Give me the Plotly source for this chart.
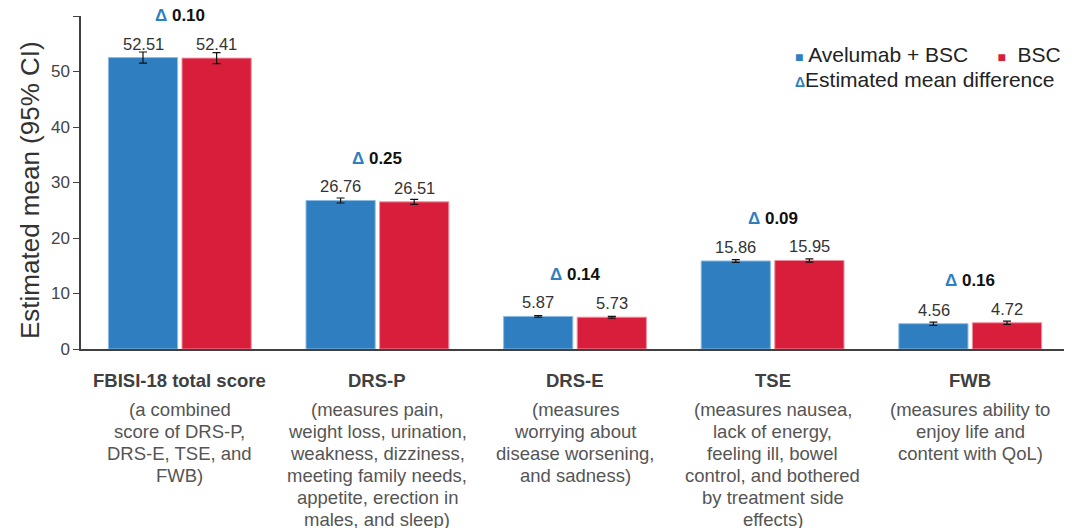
import plotly.graph_objects as go

categories = ["FBISI-18 total score", "DRS-P", "DRS-E", "TSE", "FWB"]
descriptions = [
    ["(a combined", "score of DRS-P,", "DRS-E, TSE, and", "FWB)"],
    ["(measures pain,", "weight loss, urination,", "weakness, dizziness,", "meeting family needs,",
     "appetite, erection in", "males, and sleep)"],
    ["(measures", "worrying about", "disease worsening,", "and sadness)"],
    ["(measures nausea,", "lack of energy,", "feeling ill, bowel", "control, and bothered",
     "by treatment side", "effects)"],
    ["(measures ability to", "enjoy life and", "content with QoL)"],
]
avelumab = [52.51, 26.76, 5.87, 15.86, 4.56]
bsc = [52.41, 26.51, 5.73, 15.95, 4.72]
avelumab_ci = [1.0, 0.45, 0.15, 0.25, 0.3]
bsc_ci = [1.0, 0.45, 0.15, 0.3, 0.3]
differences = ["0.10", "0.25", "0.14", "0.09", "0.16"]
y_ticks = [0, 10, 20, 30, 40, 50, 60]

BLUE = "#2F7EC0"
RED = "#D81E3B"
FONT = "Liberation Sans, Arial, sans-serif"
DARK = "#404040"

fig = go.Figure()
fig.add_trace(go.Bar(
    x=categories, y=avelumab, name="Avelumab + BSC",
    marker=dict(color=BLUE, line=dict(color="#8DBBE3", width=1)),
    error_y=dict(type="data", array=avelumab_ci, color="#111111", thickness=1.2, width=4),
))
fig.add_trace(go.Bar(
    x=categories, y=bsc, name="BSC",
    marker=dict(color=RED, line=dict(color="#EE8E9C", width=1)),
    error_y=dict(type="data", array=bsc_ci, color="#111111", thickness=1.2, width=4),
))

annotations = []
slot_shift = 36.7
for cat, a, b, d, desc in zip(categories, avelumab, bsc, differences, descriptions):
    annotations.append(dict(x=cat, y=a, xref="x", yref="y", text=f"{a:.2f}", showarrow=False,
                            xshift=-slot_shift, yshift=14, yanchor="middle",
                            font=dict(size=16.5, color="#333333", family=FONT)))
    annotations.append(dict(x=cat, y=b, xref="x", yref="y", text=f"{b:.2f}", showarrow=False,
                            xshift=slot_shift, yshift=14, yanchor="middle",
                            font=dict(size=16.5, color="#333333", family=FONT)))
    annotations.append(dict(x=cat, y=max(a, b), xref="x", yref="y",
                            text=f"<span style='color:{BLUE}'>Δ</span> {d}", showarrow=False,
                            yshift=42, yanchor="middle", borderpad=0,
                            font=dict(size=17, color="#111111", family=FONT, weight="bold")))
    annotations.append(dict(x=cat, y=0, xref="x", yref="paper", text=f"<b>{cat}</b>", showarrow=False,
                            yshift=-31, yanchor="middle",
                            font=dict(size=18.5, color=DARK, family=FONT)))
    for i, line in enumerate(desc):
        annotations.append(dict(x=cat, y=0, xref="x", yref="paper", text=line, showarrow=False,
                                yshift=-60 - 22 * i, yanchor="middle",
                                font=dict(size=18.5, color="#555555", family=FONT)))

annotations.append(dict(x=0, y=0.4775, xref="paper", yref="paper", text="Estimated mean (95% CI)",
                        textangle=-90, showarrow=False, xshift=-51,
                        xanchor="center", yanchor="middle",
                        font=dict(size=26, color="#333333", family=FONT)))
annotations.append(dict(x=0.7206, y=0.883, xref="paper", yref="paper", showarrow=False,
                        xanchor="left", yanchor="middle", align="left",
                        text=f"<span style='color:{BLUE};font-size:14px'>■</span> Avelumab + BSC&nbsp;&nbsp;&nbsp;&nbsp; "
                             f"<span style='color:{RED};font-size:14px'>■</span>&nbsp; BSC",
                        font=dict(size=21, color="#222222", family=FONT)))
annotations.append(dict(x=0.7206, y=0.808, xref="paper", yref="paper", showarrow=False,
                        xanchor="left", yanchor="middle", align="left",
                        text=f"<span style='color:{BLUE};font-size:14px'><b>Δ</b></span>Estimated mean difference",
                        font=dict(size=21, color="#222222", family=FONT)))

fig.update_layout(
    width=1064, height=520,
    margin=dict(l=73, r=3, t=8, b=179),
    paper_bgcolor="white", plot_bgcolor="white",
    barmode="group", bargap=0.255, bargroupgap=0.06,
    showlegend=False,
    annotations=annotations,
    font=dict(family=FONT),
)
fig.update_xaxes(showticklabels=False, ticks="", showline=True, linecolor=DARK, linewidth=1.5,
                 showgrid=False, zeroline=False)
fig.update_yaxes(range=[0, 60], tickvals=y_ticks, ticks="outside", ticklen=6, tickcolor=DARK,
                 showline=True, linecolor=DARK, linewidth=1.5, showgrid=False, zeroline=False,
                 tickfont=dict(size=17, color="#444444", family=FONT))

fig.write_html("out.html")
